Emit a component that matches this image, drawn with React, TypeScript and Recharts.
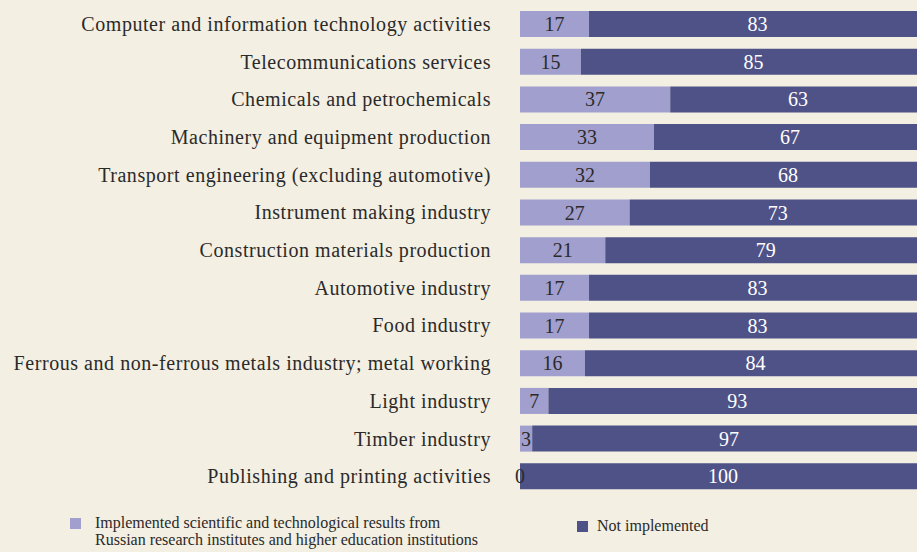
import React from "react";
import { BarChart, Bar, XAxis, YAxis, LabelList, Legend } from "recharts";

const categories = [
  "Computer and information technology activities",
  "Telecommunications services",
  "Chemicals and petrochemicals",
  "Machinery and equipment production",
  "Transport engineering (excluding automotive)",
  "Instrument making industry",
  "Construction materials production",
  "Automotive industry",
  "Food industry",
  "Ferrous and non-ferrous metals industry; metal working",
  "Light industry",
  "Timber industry",
  "Publishing and printing activities",
];

const implemented = [17, 15, 37, 33, 32, 27, 21, 17, 17, 16, 7, 3, 0];
const notImplemented = [83, 85, 63, 67, 68, 73, 79, 83, 83, 84, 93, 97, 100];

const data = categories.map((name, i) => ({
  name,
  implemented: implemented[i],
  notImplemented: notImplemented[i],
}));

const LIGHT = "#a09fcd";
const DARK = "#4f5287";
const BG = "#f3efe3";
const TEXT = "#2b2a2a";
const FONT = "'Liberation Serif', 'DejaVu Serif', serif";

// the light segment is not drawn when it is 0, so its label is drawn from the dark bar
function ZeroLabel(props: any) {
  const { x, y, height, value } = props;
  if (value !== 0) return null;
  return (
    <text
      x={x}
      y={y + height / 2}
      textAnchor="middle"
      dominantBaseline="central"
      fill={TEXT}
      style={{ fontSize: 20, fontFamily: FONT }}
    >
      0
    </text>
  );
}

function ChartLegend() {
  return (
    <div style={{ position: "relative", height: 57, fontFamily: FONT, color: TEXT, fontSize: 16 }}>
      <div style={{ position: "absolute", left: 70, top: 23, width: 11, height: 11, background: LIGHT }} />
      <div style={{ position: "absolute", left: 95, top: 19, lineHeight: "17px", whiteSpace: "nowrap" }}>
        <div>Implemented scientific and technological results from</div>
        <div>Russian research institutes and higher education institutions</div>
      </div>
      <div style={{ position: "absolute", left: 577, top: 26, width: 11, height: 11, background: DARK }} />
      <div style={{ position: "absolute", left: 597, top: 22, lineHeight: "18px", whiteSpace: "nowrap" }}>
        Not implemented
      </div>
    </div>
  );
}

export default function App() {
  return (
    <div
      style={{
        position: "absolute",
        left: 0,
        top: 0,
        width: 917,
        height: 552,
        overflow: "hidden",
        background: BG,
      }}
    >
      <BarChart
        width={926}
        height={552}
        data={data}
        layout="vertical"
        barSize={26}
        margin={{ top: 5, right: 0, left: 0, bottom: 0 }}
      >
        <XAxis type="number" domain={[0, 100]} hide />
        <YAxis
          type="category"
          dataKey="name"
          width={520}
          axisLine={false}
          tickLine={false}
          tickSize={0}
          tickMargin={29}
          interval={0}
          tick={{ fontSize: 20, fill: TEXT, fontFamily: FONT, letterSpacing: 0.55 }}
        />
        <Legend verticalAlign="bottom" height={57} content={() => <ChartLegend />} />
        <Bar dataKey="implemented" stackId="a" fill={LIGHT} isAnimationActive={false}>
          <LabelList
            dataKey="implemented"
            position="center"
            fill={TEXT}
            style={{ fontSize: 20, fontFamily: FONT }}
          />
        </Bar>
        <Bar dataKey="notImplemented" stackId="a" fill={DARK} isAnimationActive={false}>
          <LabelList
            dataKey="notImplemented"
            position="center"
            fill="#ffffff"
            style={{ fontSize: 20, fontFamily: FONT }}
          />
          <LabelList dataKey="implemented" content={<ZeroLabel />} />
        </Bar>
      </BarChart>
    </div>
  );
}
